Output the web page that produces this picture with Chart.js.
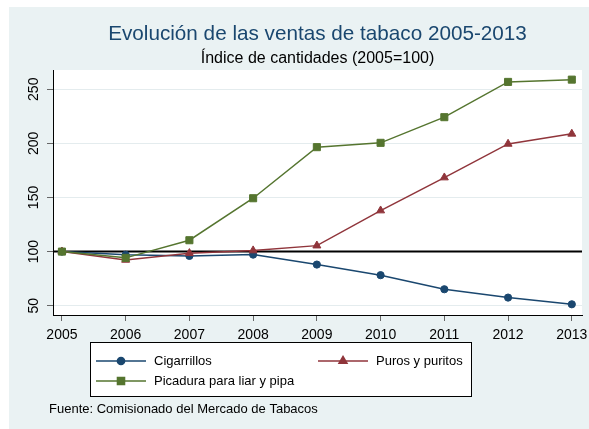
<!DOCTYPE html>
<html>
<head>
<meta charset="utf-8">
<script src="https://cdn.jsdelivr.net/npm/chart.js"></script>
<style>
  html, body { margin: 0; padding: 0; background: #fff; }
  canvas { display: block; }
</style>
</head>
<body>
<canvas id="salesChart" width="589" height="429"></canvas>
<script>
const years       = [2005, 2006, 2007, 2008, 2009, 2010, 2011, 2012, 2013];
const cigarrillos = [100, 97, 96, 97.2, 88, 78.2, 65.2, 57.5, 51.3];
const puros       = [100, 92.3, 98.5, 101, 105.5, 137.9, 168.4, 199.5, 208.8];
const picadura    = [100, 94.2, 110.5, 149.3, 196.5, 200.5, 224.2, 256.8, 258.9];
const yTicks      = [50, 100, 150, 200, 250];
const seriesNames = ['Cigarrillos', 'Puros y puritos', 'Picadura para liar y pipa'];

const FONT = '"Liberation Sans", Arial, Helvetica, sans-serif';
const BG = '#eaf2f3';
const NAVY = '#1a476f', MAROON = '#90353b', GREEN = '#55752f';

const toPoints = vals => vals.map((v, i) => ({ x: years[i], y: v }));

function mkSet(label, vals, color, style, radius, order) {
    return {
        label, data: toPoints(vals), order,
        borderColor: color, backgroundColor: color,
        borderWidth: 1.5, pointStyle: style, pointRadius: radius,
        pointBorderWidth: 1, pointBorderColor: color, pointBackgroundColor: color
    };
}

// ===== DECORATION (frame, titles, rotated y labels, legend, note) =====
const stataLook = {
    id: 'stataLook',
    beforeDraw(chart) {
        const { ctx, chartArea: a } = chart;
        ctx.save();
        ctx.fillStyle = '#fff';
        ctx.fillRect(0, 0, chart.width, chart.height);
        ctx.fillStyle = BG;
        ctx.fillRect(9, 7, chart.width - 9, chart.height - 7);
        ctx.fillStyle = '#fff';
        ctx.fillRect(a.left, a.top, a.right - a.left, a.bottom - a.top);
        ctx.restore();
    },
    beforeDatasetsDraw(chart) {
        const { ctx, chartArea: a } = chart;
        const y = chart.scales.y.getPixelForValue(100);
        ctx.save();
        ctx.strokeStyle = '#000';
        ctx.lineWidth = 2;
        ctx.beginPath();
        ctx.moveTo(a.left, y); ctx.lineTo(a.right, y);
        ctx.stroke();
        ctx.restore();
    },
    afterDraw(chart) {
        const { ctx, chartArea: a } = chart;
        const cx = (a.left + a.right) / 2;
        ctx.save();

        ctx.textAlign = 'center';
        ctx.textBaseline = 'middle';
        ctx.fillStyle = NAVY;
        ctx.font = `20.7px ${FONT}`;
        ctx.fillText('Evolución de las ventas de tabaco 2005-2013', cx, 34);
        ctx.fillStyle = '#000';
        ctx.font = `16px ${FONT}`;
        ctx.fillText('Índice de cantidades (2005=100)', cx, 59);

        // y tick labels, turned like Stata does
        ctx.font = `14px ${FONT}`;
        yTicks.forEach(v => {
            const py = chart.scales.y.getPixelForValue(v);
            ctx.save();
            ctx.translate(34.5, py);
            ctx.rotate(-Math.PI / 2);
            ctx.fillText(String(v), 0, 0);
            ctx.restore();
        });

        // legend box
        ctx.fillStyle = '#fff';
        ctx.fillRect(91, 343, 380, 53);
        ctx.strokeStyle = '#000';
        ctx.lineWidth = 1;
        ctx.strokeRect(90.5, 342.5, 381, 54);

        const slots = [
            { ds: 0, x: 96, y: 361 },
            { ds: 1, x: 318, y: 361 },
            { ds: 2, x: 96, y: 381 }
        ];
        ctx.font = `13px ${FONT}`;
        slots.forEach(s => {
            const d = chart.data.datasets[s.ds];
            ctx.strokeStyle = d.borderColor;
            ctx.lineWidth = 1.5;
            ctx.beginPath();
            ctx.moveTo(s.x, s.y); ctx.lineTo(s.x + 50, s.y);
            ctx.stroke();
            ctx.fillStyle = d.borderColor;
            Chart.helpers.drawPoint(ctx, {
                pointStyle: d.pointStyle, radius: d.pointRadius, rotation: 0, borderWidth: 1
            }, s.x + 25, s.y);
            ctx.fillStyle = '#000';
            ctx.textAlign = 'left';
            ctx.fillText(d.label, s.x + 58, s.y);
        });

        ctx.textAlign = 'left';
        ctx.fillText('Fuente: Comisionado del Mercado de Tabacos', 49, 409);
        ctx.restore();
    }
};

// ===== CHART =====
new Chart(document.getElementById('salesChart'), {
    type: 'line',
    data: {
        datasets: [
            mkSet(seriesNames[0], cigarrillos, NAVY, 'circle', 3.6, 2),
            mkSet(seriesNames[1], puros, MAROON, 'triangle', 4.6, 1),
            mkSet(seriesNames[2], picadura, GREEN, 'rect', 5, 0)
        ]
    },
    options: {
        responsive: false,
        animation: false,
        events: [],
        layout: { padding: { top: 70, right: 7, left: 0, bottom: 0 } },
        plugins: { legend: { display: false }, title: { display: false }, tooltip: { enabled: false } },
        elements: { line: { tension: 0 } },
        scales: {
            x: {
                type: 'linear', min: 2004.86, max: 2013.16,
                afterBuildTicks: s => { s.ticks = years.map(v => ({ value: v })); },
                afterFit: s => { s.height = 114; s.paddingLeft = 0; s.paddingRight = 0; },
                grid: { drawOnChartArea: false, tickLength: 6, tickColor: '#666' },
                border: { color: '#000', width: 1 },
                ticks: {
                    autoSkip: false, maxRotation: 0, padding: 6, color: '#000',
                    font: { family: FONT, size: 14 },
                    callback: v => String(v)
                }
            },
            y: {
                min: 41.4, max: 267.8,
                afterBuildTicks: s => { s.ticks = yTicks.map(v => ({ value: v })); },
                afterFit: s => { s.width = 53; s.paddingTop = 0; s.paddingBottom = 0; },
                grid: { color: '#e4ecee', lineWidth: 1, tickLength: 6, tickColor: '#666' },
                border: { color: '#000', width: 1 },
                ticks: { display: false }
            }
        }
    },
    plugins: [stataLook]
});
</script>
</body>
</html>
